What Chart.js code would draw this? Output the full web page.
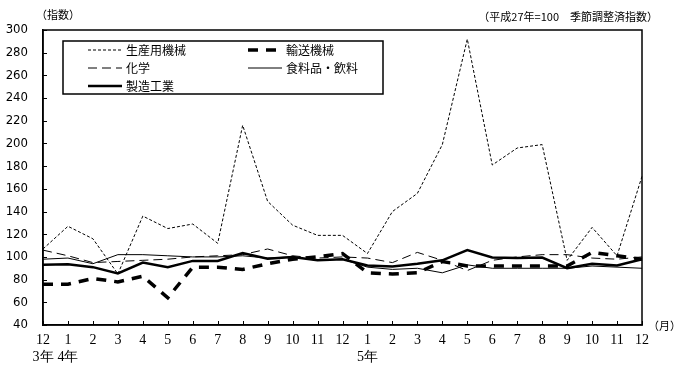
<!DOCTYPE html>
<html>
<head>
<meta charset="utf-8">
<script src="https://cdn.jsdelivr.net/npm/chart.js@4.4.0/dist/chart.umd.min.js"></script>
<style>
html,body{margin:0;padding:0;background:#fff;}
#wrap{width:678px;height:370px;}
</style>
</head>
<body>
<div id="wrap"><canvas id="c" width="678" height="370"></canvas></div>
<script>
//Data
var months = ["12","1","2","3","4","5","6","7","8","9","10","11","12","1","2","3","4","5","6","7","8","9","10","11","12"];
var yearLabels = {0:"3年",1:"4年",13:"5年"};
var machinery = [107,127,116,85,136,125,129,112,216,149,128,119,119,103,140,156,199,292,181,196,199,97,126,101,171];
var transport = [76,76,81,78,83,64,91,91,89,94,98,100,103,86,85,86,96,92,92,92,92,92,104,101,98];
var chemical = [106,101,95,96,97,98,100,101,102,107,101,99,100,99,95,104,97,88,97,100,102,102,99,98,100];
var food = [98,99,94,102,102,101,100,100,101,99,100,97,98,91,89,90,86,93,90,90,90,90,92,91,90];
var manufacturing = [93,93.5,91,85.5,95,91,96.5,96.5,103.5,98.5,100,97,98,92.5,91.5,94,97,106,99.5,99,99.5,90,94,92.5,98];
var yTicks = [40,60,80,100,120,140,160,180,200,220,240,260,280,300];

var JP = '"Noto Sans CJK JP", sans-serif';
var labels = months.map(function(m,i){ return yearLabels[i] ? [m,yearLabels[i]] : m; });

//Box, inner ticks, legend, notes
var decor = {
	id:'decor',
	afterDraw:function(chart){
		var ctx = chart.ctx, a = chart.chartArea;
		var xs = chart.scales.x, ys = chart.scales.y;
		ctx.save();
		ctx.strokeStyle = '#000';
		ctx.lineWidth = 1.5;
		ctx.strokeRect(a.left, a.top, a.right-a.left, a.bottom-a.top);
		ctx.lineWidth = 1;
		ctx.beginPath();
		yTicks.forEach(function(v){
			var y = Math.round(ys.getPixelForValue(v))+0.5;
			ctx.moveTo(a.left, y); ctx.lineTo(a.left+4, y);
		});
		for(var i=0;i<months.length;i++){
			var x = Math.round(xs.getPixelForValue(i))+0.5;
			ctx.moveTo(x, a.bottom); ctx.lineTo(x, a.bottom-4);
		}
		ctx.stroke();
		//notes
		ctx.fillStyle = '#000';
		ctx.font = '11px ' + JP;
		ctx.textBaseline = 'middle';
		ctx.textAlign = 'left';
		ctx.fillText('（指数）', 36, 15);
		ctx.textAlign = 'right';
		ctx.fillText('（平成27年=100　季節調整済指数）', 658, 17);
		ctx.textAlign = 'left';
		ctx.fillText('（月）', 648, 326);
		//legend
		var bx = 63, by = 41, bw = 320, bh = 53;
		ctx.fillStyle = '#fff';
		ctx.fillRect(bx, by, bw, bh);
		ctx.lineWidth = 1.5;
		ctx.strokeRect(bx, by, bw, bh);
		var pos = [[88,50],[248,50],[88,68],[248,68],[88,86]];
		var order = [0,1,2,3,4];
		ctx.font = '12px ' + JP;
		order.forEach(function(k,n){
			var ds = chart.data.datasets[k];
			var p = pos[n];
			ctx.beginPath();
			ctx.setLineDash(ds.borderDash || []);
			ctx.lineWidth = ds.borderWidth;
			ctx.strokeStyle = '#000';
			ctx.moveTo(p[0], p[1]); ctx.lineTo(p[0]+34, p[1]);
			ctx.stroke();
			ctx.setLineDash([]);
			ctx.fillStyle = '#000';
			ctx.textAlign = 'left';
			ctx.fillText(ds.label, p[0]+38, p[1]);
		});
		ctx.restore();
	}
};

var ctx = document.getElementById('c');
var chart = new Chart(ctx,{
	type:'line',
	data:{
		labels:labels,
		datasets:[
			{label:'生産用機械',data:machinery,borderColor:'#000',borderWidth:1,borderDash:[3,2]},
			{label:'輸送機械',data:transport,borderColor:'#000',borderWidth:3.5,borderDash:[10,8]},
			{label:'化学',data:chemical,borderColor:'#000',borderWidth:1,borderDash:[9,5]},
			{label:'食料品・飲料',data:food,borderColor:'#000',borderWidth:1},
			{label:'製造工業',data:manufacturing,borderColor:'#000',borderWidth:2.5}
		]
	},
	options:{
		responsive:false,
		animation:false,
		layout:{padding:{top:30,right:36,left:0,bottom:0}},
		elements:{point:{radius:0},line:{tension:0,fill:false}},
		plugins:{legend:{display:false},tooltip:{enabled:false}},
		scales:{
			x:{
				offset:false,
				grid:{display:false,drawTicks:false},
				border:{display:true,color:'#000',width:1.5},
				ticks:{color:'#000',padding:7,maxRotation:0,autoSkip:false,font:{family:'"Liberation Serif", serif',size:14,lineHeight:1.2}},
				afterFit:function(s){ s.height = 45; }
			},
			y:{
				min:40,max:300,
				grid:{display:false,drawTicks:false},
				border:{display:true,color:'#000',width:1.5},
				ticks:{color:'#000',stepSize:20,padding:15,font:{family:'"DejaVu Sans Condensed","Liberation Sans", sans-serif',size:13}},
				afterFit:function(s){ s.width = 43; }
			}
		}
	},
	plugins:[decor]
});
</script>
</body>
</html>
